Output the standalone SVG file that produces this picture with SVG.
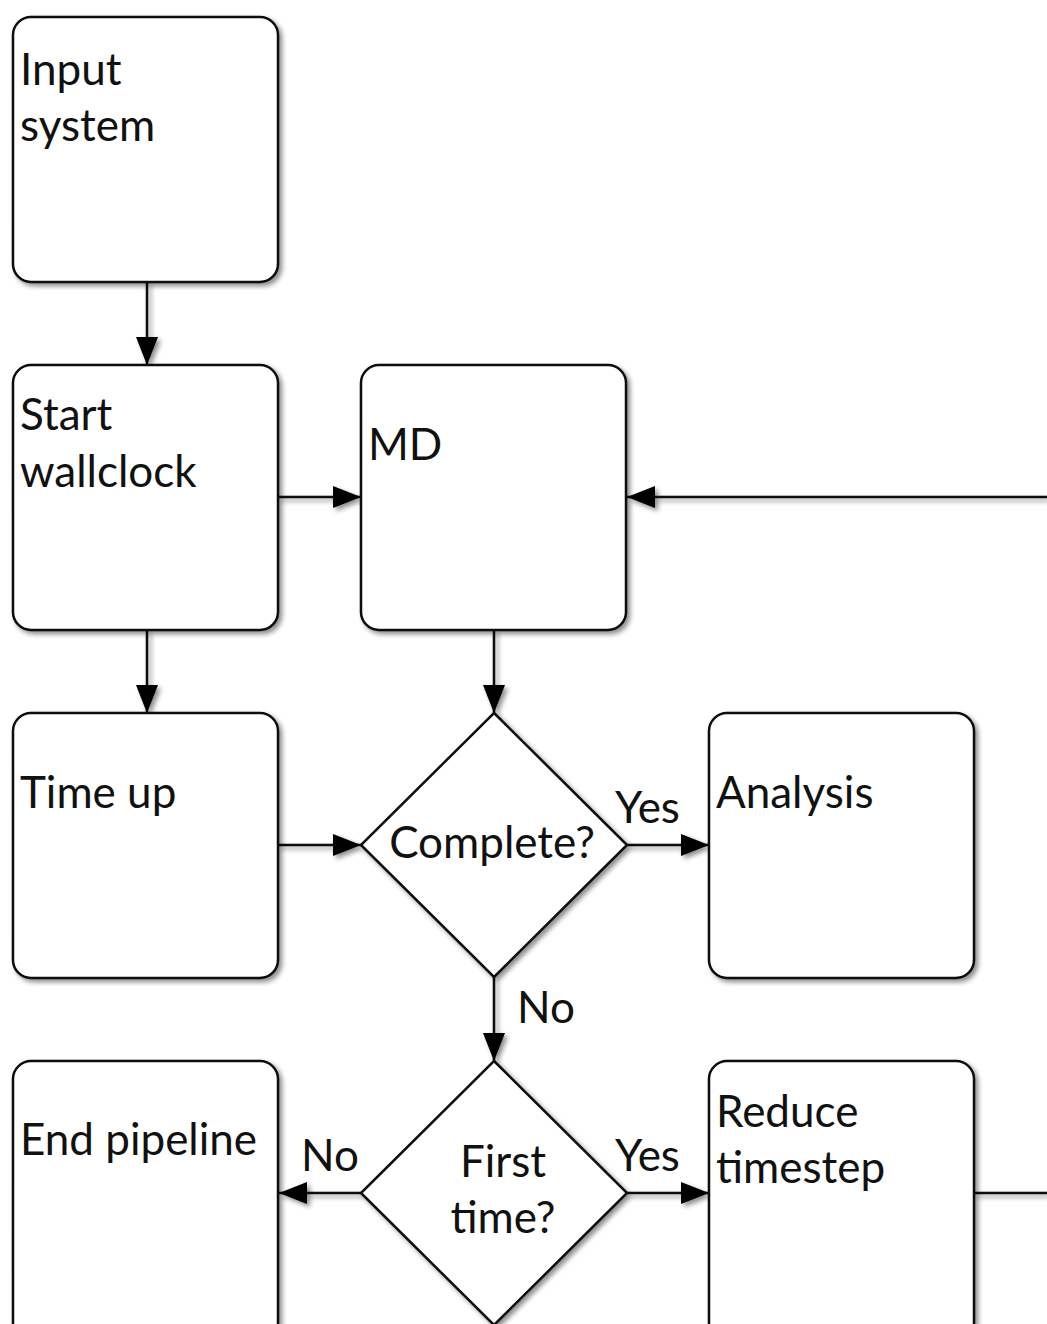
<svg xmlns="http://www.w3.org/2000/svg" width="1047" height="1324" viewBox="0 0 1047 1324">
<defs>
<filter id="sh" x="-10%" y="-10%" width="130%" height="130%">
<feGaussianBlur in="SourceAlpha" stdDeviation="2.5"/>
<feOffset dx="3" dy="3" result="b"/>
<feComponentTransfer><feFuncA type="linear" slope="0.45"/></feComponentTransfer>
<feMerge><feMergeNode/><feMergeNode in="SourceGraphic"/></feMerge>
</filter>
<filter id="shl" filterUnits="userSpaceOnUse" x="0" y="0" width="1047" height="1324">
<feGaussianBlur in="SourceAlpha" stdDeviation="2.5"/>
<feOffset dx="3" dy="3" result="b"/>
<feComponentTransfer><feFuncA type="linear" slope="0.45"/></feComponentTransfer>
<feMerge><feMergeNode/><feMergeNode in="SourceGraphic"/></feMerge>
</filter>
<marker id="arr" viewBox="0 0 28 22" refX="28" refY="11" markerWidth="28" markerHeight="22" markerUnits="userSpaceOnUse" orient="auto">
<path d="M0,0 L28,11 L0,22 Z" fill="#000"/>
</marker>
</defs>
<style>
.box{fill:#fff;stroke:#111;stroke-width:2.5;filter:url(#sh)}
.t{font-family:Lato,"Open Sans",sans-serif;font-size:44px;fill:#111}
.c{text-anchor:middle}
.ln{fill:none;stroke:#111;stroke-width:2.5}
.la{fill:none;stroke:#111;stroke-width:2.5;marker-end:url(#arr)}
</style>
<rect width="1047" height="1324" fill="#fff"/>
<g id="connectors" filter="url(#shl)">
<line class="la" x1="147" y1="282" x2="147" y2="365"/>
<line class="la" x1="278" y1="497" x2="361" y2="497"/>
<line class="la" x1="147" y1="630" x2="147" y2="713"/>
<line class="la" x1="278" y1="845" x2="361" y2="845"/>
<line class="la" x1="494" y1="630" x2="494" y2="713"/>
<line class="la" x1="627" y1="845" x2="709" y2="845"/>
<line class="la" x1="494" y1="977" x2="494" y2="1061"/>
<line class="la" x1="361" y1="1193" x2="279" y2="1193"/>
<line class="la" x1="627" y1="1193" x2="709" y2="1193"/>
<line class="ln" x1="974" y1="1193" x2="1047" y2="1193"/>
<line class="la" x1="1047" y1="497" x2="627" y2="497"/>
</g>
<g id="labels">
<text class="t" x="615" y="823">Yes</text>
<text class="t" x="517" y="1023">No</text>
<text class="t" x="301" y="1171">No</text>
<text class="t" x="615" y="1171">Yes</text>
</g>
<g id="input">
<rect class="box" x="13" y="17" width="265" height="265" rx="18"/>
<text class="t" x="20" y="85">Input</text>
<text class="t" x="20" y="141">system</text>
</g>
<g id="start">
<rect class="box" x="13" y="365" width="265" height="265" rx="18"/>
<text class="t" x="20" y="430">Start</text>
<text class="t" x="20" y="487">wallclock</text>
</g>
<g id="md">
<rect class="box" x="361" y="365" width="265" height="265" rx="18"/>
<text class="t" x="368" y="460">MD</text>
</g>
<g id="timeup">
<rect class="box" x="13" y="713" width="265" height="265" rx="18"/>
<text class="t" x="20" y="808">Time up</text>
</g>
<g id="complete">
<polygon class="box" points="494,713 627,845 494,977 361,845"/>
<text class="t c" x="492" y="858">Complete?</text>
</g>
<g id="analysis">
<rect class="box" x="709" y="713" width="265" height="265" rx="18"/>
<text class="t" x="716" y="808">Analysis</text>
</g>
<g id="end">
<rect class="box" x="13" y="1061" width="265" height="280" rx="18"/>
<text class="t" x="20" y="1155">End pipeline</text>
</g>
<g id="first">
<polygon class="box" points="494,1061 627,1193 494,1325 361,1193"/>
<text class="t c" x="503" y="1177">First</text>
<text class="t c" x="503" y="1233">time?</text>
</g>
<g id="reduce">
<rect class="box" x="709" y="1061" width="265" height="280" rx="18"/>
<text class="t" x="716" y="1127">Reduce</text>
<text class="t" x="716" y="1183">timestep</text>
</g>
</svg>
